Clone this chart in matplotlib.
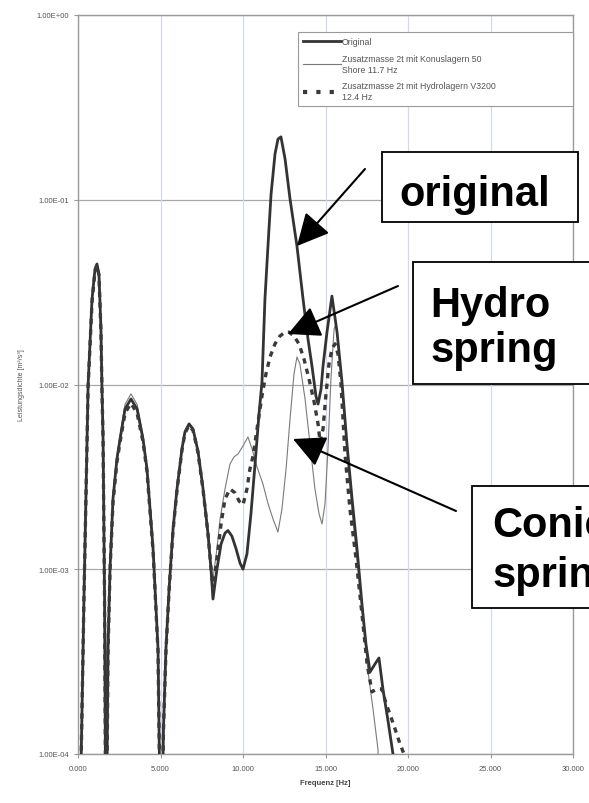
import matplotlib
matplotlib.use("Agg")
import matplotlib.pyplot as plt
from matplotlib.patches import Rectangle, FancyArrowPatch
from matplotlib.lines import Line2D

plt.rcParams['font.family'] = ['Liberation Sans', 'DejaVu Sans']

# ---------------- data (Frequenz in Hz, Leistungsdichte) ----------------
freq_orig = [0.06, 0.36, 0.55, 0.61, 0.85, 1.03, 1.15, 1.27, 1.39, 1.45, 1.52, 1.61, 1.70,
             1.82, 1.94, 2.12, 2.36, 2.55, 2.85, 3.21, 3.58, 3.94, 4.18, 4.55, 4.85, 5.03,
             5.18, 5.33, 5.52, 5.76, 6.00, 6.30, 6.48, 6.73, 6.97, 7.27, 7.58, 7.88, 8.06, 8.18,
             8.42, 8.67, 8.91, 9.09, 9.33, 9.58, 9.82, 10.00, 10.24, 10.48, 10.73, 10.97, 11.15,
             11.33, 11.52, 11.70, 11.94, 12.12, 12.30, 12.55, 12.85, 13.27, 13.64, 13.94, 14.18,
             14.42, 14.55, 14.73, 14.85, 15.09, 15.39, 15.70, 16.00, 16.30, 16.61, 16.91, 17.21,
             17.45, 17.70, 18.00, 18.24, 18.48, 18.79, 19.09, 19.33]
psd_orig = [2e-5, 6.9e-4, 5.07e-3, 9.8e-3, 0.029, 0.0422, 0.0449, 0.0397, 0.0200, 9.8e-3, 5.07e-3, 6.9e-4, 2e-5,
            3.70e-4, 1.0e-3, 2.4e-3, 3.95e-3, 5.07e-3, 7.37e-3, 8.35e-3, 7.37e-3, 5.07e-3, 3.49e-3, 1.29e-3, 3.70e-4, 2e-5,
            1.37e-4, 3.70e-4, 7.81e-4, 1.65e-3, 2.72e-3, 4.48e-3, 5.53e-3, 6.11e-3, 5.74e-3, 4.37e-3, 2.72e-3, 1.55e-3, 1.0e-3, 6.9e-4,
            1.0e-3, 1.37e-3, 1.57e-3, 1.62e-3, 1.51e-3, 1.29e-3, 1.08e-3, 1.0e-3, 1.21e-3, 1.99e-3, 3.71e-3, 6.92e-3, 0.0103,
            0.029, 0.0576, 0.107, 0.177, 0.213, 0.219, 0.166, 0.101, 0.0562, 0.029, 0.0176, 0.0126,
            8.67e-3, 7.84e-3, 9.46e-3, 0.0126, 0.0192, 0.0301, 0.0192, 0.0103, 4.77e-3, 2.40e-3, 1.29e-3, 6.48e-4,
            3.94e-4, 2.78e-4, 3.07e-4, 3.31e-4, 2.25e-4, 1.51e-4, 1.0e-4, 2e-5]

freq_konus = [0.06, 0.36, 0.55, 0.61, 0.85, 1.03, 1.15, 1.27, 1.39, 1.45, 1.52, 1.61, 1.70,
              1.82, 1.94, 2.12, 2.36, 2.55, 2.85, 3.21, 3.58, 3.94, 4.18, 4.55, 4.85, 5.03,
              5.18, 5.33, 5.52, 5.76, 6.00, 6.30, 6.48, 6.73, 6.97, 7.27, 7.58, 7.88, 8.06, 8.18,
              8.42, 8.61, 8.91, 9.21, 9.45, 9.70, 10.00, 10.30, 10.55, 10.85, 11.21, 11.52, 11.82,
              12.12, 12.36, 12.61, 12.85, 13.09, 13.27, 13.45, 13.76, 14.06, 14.36, 14.61, 14.79,
              14.97, 15.15, 15.33, 15.52, 15.64, 15.82, 16.06, 16.30, 16.61, 16.97, 17.27, 17.58,
              17.88, 18.18, 18.36]
psd_konus = [2e-5, 7.0e-4, 5.1e-3, 9.9e-3, 0.029, 0.042, 0.045, 0.040, 0.020, 9.9e-3, 5.1e-3, 7.0e-4, 2e-5,
             3.8e-4, 1.05e-3, 2.5e-3, 4.1e-3, 5.3e-3, 7.8e-3, 8.9e-3, 7.8e-3, 5.3e-3, 3.6e-3, 1.32e-3, 3.8e-4, 2e-5,
             1.4e-4, 3.8e-4, 8.0e-4, 1.68e-3, 2.78e-3, 4.55e-3, 5.6e-3, 6.2e-3, 5.8e-3, 4.4e-3, 2.76e-3, 1.6e-3, 1.05e-3, 8.85e-4,
             1.29e-3, 1.87e-3, 2.72e-3, 3.71e-3, 4.05e-3, 4.21e-3, 4.65e-3, 5.20e-3, 4.48e-3, 3.58e-3, 2.89e-3, 2.26e-3, 1.87e-3,
             1.59e-3, 2.12e-3, 3.49e-3, 6.50e-3, 0.0114, 0.0141, 0.0129, 8.35e-3, 4.77e-3, 2.72e-3, 1.99e-3, 1.76e-3,
             2.26e-3, 4.48e-3, 0.0107, 0.0200, 0.0212, 0.0156, 8.35e-3, 4.48e-3, 2.12e-3, 1.0e-3, 5.38e-4, 2.78e-4,
             1.75e-4, 1.06e-4, 2e-5]

freq_hydro = [0.06, 0.36, 0.55, 0.61, 0.85, 1.03, 1.15, 1.27, 1.39, 1.45, 1.52, 1.61, 1.70,
              1.82, 1.94, 2.12, 2.36, 2.55, 2.85, 3.21, 3.58, 3.94, 4.18, 4.55, 4.85, 5.03,
              5.18, 5.33, 5.52, 5.76, 6.00, 6.30, 6.48, 6.73, 6.97, 7.27, 7.58, 7.88, 8.06, 8.18,
              8.42, 8.67, 8.91, 9.21, 9.52, 9.76, 10.00, 10.24, 10.42, 10.61, 10.85, 11.15, 11.39,
              11.64, 11.94, 12.24, 12.55, 12.79, 13.09, 13.39, 13.70, 14.00, 14.30, 14.55, 14.67,
              14.85, 15.03, 15.21, 15.39, 15.58, 15.76, 15.94, 16.18, 16.48, 16.85, 17.21, 17.52,
              17.82, 18.12, 18.42, 18.67, 18.91, 19.21, 19.52, 19.76, 19.94]
psd_hydro = [2e-5, 6.9e-4, 5.0e-3, 9.6e-3, 0.028, 0.041, 0.044, 0.039, 0.0195, 9.6e-3, 5.0e-3, 6.9e-4, 2e-5,
             3.6e-4, 9.8e-4, 2.3e-3, 3.8e-3, 4.9e-3, 7.0e-3, 7.9e-3, 7.0e-3, 4.9e-3, 3.4e-3, 1.25e-3, 3.6e-4, 2e-5,
             1.35e-4, 3.6e-4, 7.7e-4, 1.62e-3, 2.68e-3, 4.4e-3, 5.45e-3, 6.0e-3, 5.65e-3, 4.3e-3, 2.68e-3, 1.55e-3, 1.02e-3, 7.8e-4,
             1.14e-3, 1.76e-3, 2.40e-3, 2.72e-3, 2.59e-3, 2.34e-3, 2.23e-3, 2.72e-3, 3.49e-3, 4.10e-3, 5.74e-3, 8.67e-3, 0.0114,
             0.0141, 0.0166, 0.0183, 0.0192, 0.0192, 0.0183, 0.0166, 0.0137, 0.0107, 8.14e-3, 6.11e-3, 4.89e-3,
             5.74e-3, 8.89e-3, 0.0129, 0.0156, 0.0166, 0.0146, 0.0101, 4.21e-3, 2.12e-3, 1.14e-3, 5.73e-4, 3.07e-4,
             2.17e-4, 2.25e-4, 2.25e-4, 1.87e-4, 1.64e-4, 1.37e-4, 1.13e-4, 1.0e-4, 2e-5]

x_ticks = [0, 5, 10, 15, 20, 25, 30]
x_ticklabels = ["0.000", "5.000", "10.000", "15.000", "20.000", "25.000", "30.000"]
y_ticks = [1e-4, 1e-3, 1e-2, 1e-1, 1e0]
y_ticklabels = ["1.00E-04", "1.00E-03", "1.00E-02", "1.00E-01", "1.00E+00"]

legend_labels = ["Original",
                 "Zusatzmasse 2t mit Konuslagern 50\nShore 11.7 Hz",
                 "Zusatzmasse 2t mit Hydrolagern V3200\n12.4 Hz"]

# ---------------- figure ----------------
W, H = 589, 804
fig = plt.figure(figsize=(W / 100, H / 100), dpi=100)
fig.patch.set_facecolor("white")

def fx(px):
    return px / W

def fy(py):
    return 1 - py / H

L, R, T, B = 78, 573, 16, 755
ax = fig.add_axes([fx(L), fy(B), (R - L) / W, (B - T) / H])
ax.set_yscale("log")
ax.set_xlim(0, 30)
ax.set_ylim(1e-4, 1e0)

ax.set_xticks(x_ticks)
ax.set_xticklabels(x_ticklabels)
ax.set_yticks(y_ticks)
ax.set_yticklabels(y_ticklabels)
ax.minorticks_off()
ax.tick_params(axis="both", labelsize=5.5, labelcolor="#555555", color="#999999",
               length=3, width=0.8)
ax.tick_params(axis="x", pad=5)

for yv in y_ticks:
    ax.axhline(yv, color="#a8a8a8", lw=0.9, zorder=0)
for xv in x_ticks:
    ax.axvline(xv, color="#d4dbe8", lw=0.9, zorder=0)
for s in ax.spines.values():
    s.set_color("#9a9a9a")
    s.set_linewidth(1.0)

ax.plot(freq_konus, psd_konus, color="#7a7a7a", lw=0.8, zorder=3)
ax.plot(freq_orig, psd_orig, color="#333333", lw=2.0, zorder=4)
ax.plot(freq_hydro, psd_hydro, color="#3a3a3a", lw=2.4, linestyle=(0, (1.6, 1.6)), zorder=5)

ax.set_xlabel("Frequenz [Hz]", fontsize=5.5, color="#444444", fontweight="bold", labelpad=5)
ax.set_ylabel("Leistungsdichte [m²/s³]", fontsize=5, color="#555555", labelpad=8)

handles = [Line2D([], [], color="#333333", lw=2.0),
           Line2D([], [], color="#7a7a7a", lw=0.8),
           Line2D([], [], color="#3a3a3a", lw=3.0, linestyle=(0, (1.0, 2.2)))]
leg = ax.legend(handles, legend_labels, loc="upper left",
                bbox_to_anchor=((298 - L) / (R - L), (B - 122) / (B - T),
                                (R - 298) / (R - L), (122 - 33) / (B - T)),
                mode="expand", borderaxespad=0, fontsize=6.3, labelcolor="#555555",
                frameon=True, fancybox=False, edgecolor="#9a9a9a", framealpha=1,
                handlelength=4.3, handletextpad=0.1, labelspacing=0.9, borderpad=0.6)
leg.get_frame().set_linewidth(0.8)

# ---------------- annotation boxes ----------------
def box(x0, y0, x1, y1):
    r = Rectangle((fx(x0), fy(y1)), (x1 - x0) / W, (y1 - y0) / H, transform=fig.transFigure,
                  facecolor="white", edgecolor="black", lw=1.3, zorder=10, clip_on=False)
    fig.add_artist(r)

def label(x, y, s):
    fig.text(fx(x), fy(y), s, fontsize=30, fontweight="bold", color="black",
             ha="left", va="baseline", zorder=11, family=["Liberation Sans", "DejaVu Sans"])

def arrow(x0, y0, x1, y1):
    a = FancyArrowPatch((fx(x0), fy(y0)), (fx(x1), fy(y1)), transform=fig.transFigure,
                        arrowstyle="-|>,head_length=0.9,head_width=0.45", mutation_scale=22,
                        color="black", lw=1.5, zorder=12, shrinkA=0, shrinkB=0)
    fig.add_artist(a)

box(382, 153, 578, 223)
label(399, 206, "original")
box(413, 263, 600, 385)
label(430, 317, "Hydro")
label(430, 362, "spring")
box(472, 487, 600, 609)
label(492, 537, "Conic")
label(492, 587, "spring")

arrow(365, 170, 297, 247)
arrow(398, 287, 288, 335)
arrow(456, 512, 293, 440)

fig.savefig("out.png", dpi=100, facecolor="white")
